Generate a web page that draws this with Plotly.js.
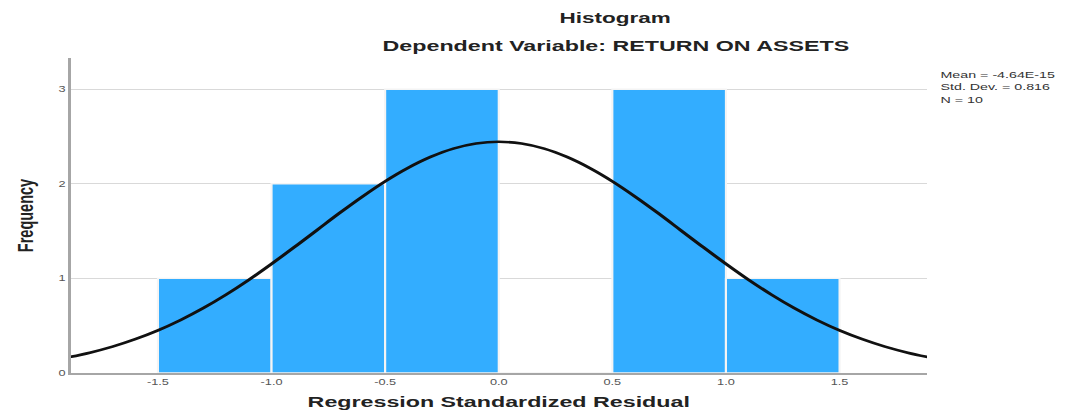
<!DOCTYPE html>
<html>
<head>
<meta charset="utf-8">
<script src="https://cdn.plot.ly/plotly-3.0.1.min.js"></script>
<style>
html,body{margin:0;padding:0;background:#fff;overflow:hidden;}
#chart{width:713.33px;height:416px;transform:scaleX(1.5);transform-origin:0 0;}
</style>
</head>
<body>
<div id="chart"></div>
<script>
// Histogram bins (centres) and frequencies
const binCenters = [-1.25, -0.75, -0.25, 0.25, 0.75, 1.25];
const counts = [1, 2, 3, 0, 3, 1];
// Normal curve
const curveX = [-1.9,-1.8,-1.7,-1.6,-1.5,-1.4,-1.3,-1.2,-1.1,-1.0,-0.9,-0.8,-0.7,-0.6,-0.5,-0.4,-0.3,-0.2,-0.1,0.0,0.1,0.2,0.3,0.4,0.5,0.6,0.7,0.8,0.9,1.0,1.1,1.2,1.3,1.4,1.5,1.6,1.7,1.8,1.9];
const curveY = [0.163,0.215,0.279,0.358,0.451,0.561,0.687,0.829,0.985,1.154,1.330,1.511,1.692,1.865,2.026,2.167,2.284,2.372,2.426,2.444,2.426,2.372,2.284,2.167,2.026,1.865,1.692,1.511,1.330,1.154,0.985,0.829,0.687,0.561,0.451,0.358,0.279,0.215,0.163];
const xTicks = [-1.5, -1.0, -0.5, 0.0, 0.5, 1.0, 1.5];
const xTickLabels = ["-1.5", "-1.0", "-0.5", "0.0", "0.5", "1.0", "1.5"];
const yTicks = [0, 1, 2, 3];
const yTickLabels = ["0", "1", "2", "3"];
const statsLines = ["Mean = -4.64E-15", "Std. Dev. = 0.816", "N = 10"];
const titleText = "Histogram";
const subtitleText = "Dependent Variable: RETURN ON ASSETS";

const traces = [
  {
    type: 'bar', x: binCenters, y: counts, width: 0.5,
    marker: {color: '#33adff', line: {color: '#f4f4f4', width: 1.4}},
    hoverinfo: 'skip'
  },
  {
    type: 'scatter', mode: 'lines', x: curveX, y: curveY,
    line: {color: '#111111', width: 2.6, shape: 'spline'},
    hoverinfo: 'skip'
  }
];

const layout = {
  width: 713.33, height: 416,
  margin: {l: 47.33, r: 94.67, t: 58, b: 43},
  paper_bgcolor: '#ffffff', plot_bgcolor: '#ffffff',
  showlegend: false,
  bargap: 0,
  font: {family: 'Liberation Sans, Arial, sans-serif', color: '#333'},
  xaxis: {
    range: [-1.885, 1.885], tickvals: xTicks, ticktext: xTickLabels,
    showgrid: false, zeroline: false, showline: true, linecolor: '#a6a6a6', linewidth: 2,
    ticks: '', tickfont: {size: 8.5, color: '#555'},
    title: {text: 'Regression Standardized Residual', standoff: 10,
      font: {size: 15.5, weight: 'bold', color: '#222'}}
  },
  yaxis: {
    range: [0, 3.33], tickvals: yTicks, ticktext: yTickLabels,
    showgrid: true, gridcolor: '#d9d9d9', gridwidth: 1, zeroline: false,
    showline: true, linecolor: '#a6a6a6', linewidth: 1.5,
    ticks: '', tickfont: {size: 8.5, color: '#555'},
    title: {text: 'Frequency', standoff: 13,
      font: {size: 14.5, weight: 'bold', color: '#222'}}
  },
  annotations: [
    {text: titleText, xref: 'paper', yref: 'paper', x: 0.636, y: 1.127, xanchor: 'center', yanchor: 'middle',
     showarrow: false, font: {size: 15, weight: 'bold', color: '#222'}},
    {text: subtitleText, xref: 'paper', yref: 'paper', x: 0.636, y: 1.041, xanchor: 'center', yanchor: 'middle',
     showarrow: false, font: {size: 15.5, weight: 'bold', color: '#222'}},
    {text: statsLines.join('<br>'), xref: 'paper', yref: 'paper', x: 1.012, y: 0.97, xanchor: 'left', yanchor: 'top',
     align: 'left', showarrow: false, font: {size: 9.5, color: '#333'}}
  ]
};

Plotly.newPlot('chart', traces, layout, {displayModeBar: false, staticPlot: true});
</script>
</body>
</html>
